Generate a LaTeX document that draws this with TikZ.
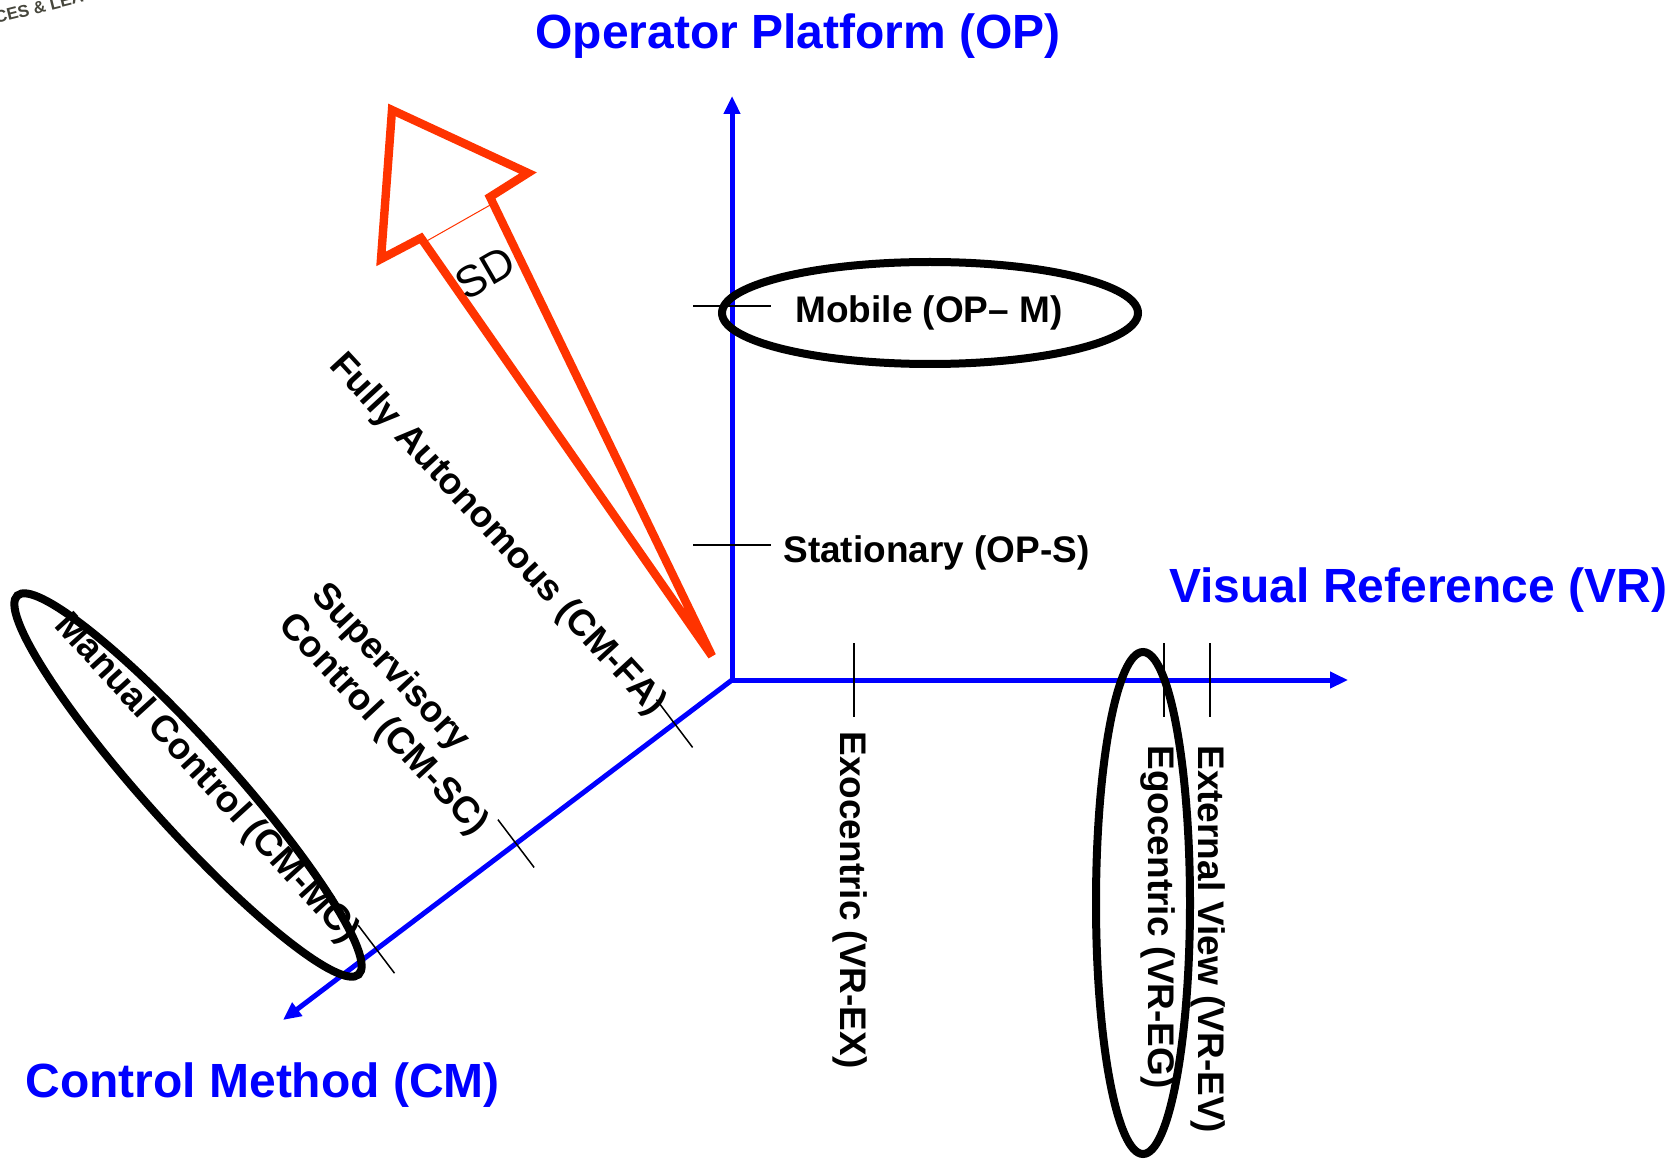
\documentclass[tikz,border=0pt]{standalone}
\usepackage{fontspec}
\setmainfont{Liberation Sans}
\definecolor{axisblue}{RGB}{0,0,255}
\definecolor{sdred}{RGB}{255,51,0}
\definecolor{logogray}{RGB}{70,70,60}
\usetikzlibrary{
    arrows.meta,
    calc,
    positioning
}

\begin{document}
\begin{tikzpicture}[x=0.5pt, y=-0.5pt,
        axistitle/.style={text=axisblue, font=\fontsize{24}{29}\selectfont\bfseries, inner sep=0pt, anchor=base west},
        ticklabel/.style={font=\fontsize{18.5}{22.2}\selectfont\bfseries, inner sep=0pt},
        tickline/.style={draw=black, line width=0.75pt},
        ringline/.style={draw=black, line width=4pt},
    ]
    \useasboundingbox (0,0) rectangle (1671,1160);

    % axes
    \coordinate (origin) at (732,680);
    \coordinate (optip) at (732,96);
    \coordinate (vrtip) at (1348,680);
    \coordinate (cmtip) at (283,1020);
    \begin{scope} [every edge/.style={draw=axisblue, line width=2.5pt}]
        \path [-{Triangle[length=9pt,width=8pt]}] (origin) edge (optip);
        \path [-{Triangle[length=9pt,width=8pt]}] (origin) edge (vrtip);
        \path [-{Triangle[length=9pt,width=8pt]}] (origin) edge (cmtip);
    \end{scope}

    \node[axistitle] (optitle) at (535,49) {Operator Platform (OP)};
    \node[axistitle] (vrtitle) at (1169,602) {Visual Reference (VR)};
    \node[axistitle] (cmtitle) at (25,1097) {Control Method (CM)};

    % ticks
    \foreach \y/\n in {306/opm, 545/ops} {
        \coordinate (\n) at (732,\y);
        \draw[tickline] ([xshift=-19.5pt]\n) -- ([xshift=19.5pt]\n);
    }
    \foreach \x/\n in {854/vrex, 1164/vreg, 1210/vrev} {
        \coordinate (\n) at (\x,680);
        \draw[tickline] ([yshift=18.5pt]\n) -- ([yshift=-18.5pt]\n);
    }
    \foreach \t/\n in {0.128/cmfa, 0.481/cmsc, 0.792/cmmc} {
        \coordinate (\n) at ($(origin)!\t!(cmtip)$);
        \draw[tickline] ($(\n)!15pt!90:(origin)$) -- ($(\n)!15pt!-90:(origin)$);
    }

    \node[ticklabel, anchor=base west] (mobile) at (795,323) {Mobile (OP– M)};
    \node[ticklabel, anchor=base west] (stationary) at (783,562) {Stationary (OP-S)};
    \node[ticklabel, rotate=-90, anchor=base west] (exo) at (840,731) {Exocentric (VR-EX)};
    \node[ticklabel, rotate=-90, anchor=base west] (ego) at (1148,745) {Egocentric (VR-EG)};
    \node[ticklabel, rotate=-90, anchor=base west] (extview) at (1198,745) {External View (VR-EV)};
    \node[ticklabel, rotate=-47.3] (fully) at (497,535) {Fully Autonomous (CM-FA)};
    \node[ticklabel, rotate=-47, align=left] (superv) at (399,710) {Supervisory\\Control (CM-SC)};
    \node[ticklabel, rotate=-47.6] (manual) at (206,779) {Manual Control (CM-MC)};

    % rings
    \draw[ringline] (930,313) ellipse [x radius=208, y radius=51];
    \draw[ringline] (1143,903) ellipse [x radius=47, y radius=251];
    \draw[ringline] (188,785) circle [x radius=255, y radius=43, rotate=-48];

    % SD arrow
    \draw[sdred, line width=4.2pt, line join=miter] (392,110) -- (528,173) -- (490,197)
        -- (712,656) -- (421,238) -- (381,259) -- cycle;
    \draw[sdred, line width=0.5pt] (425,242) -- (492,204);
    \node[font=\fontsize{22}{26}\selectfont, rotate=30] (sd) at (485,273) {SD};

    \node[text=logogray, font=\fontsize{8.5}{9}\selectfont\bfseries, rotate=14, anchor=base west, inner sep=0pt] (logo) at (-4,24) {CES \& LEA};
\end{tikzpicture}
\end{document}
